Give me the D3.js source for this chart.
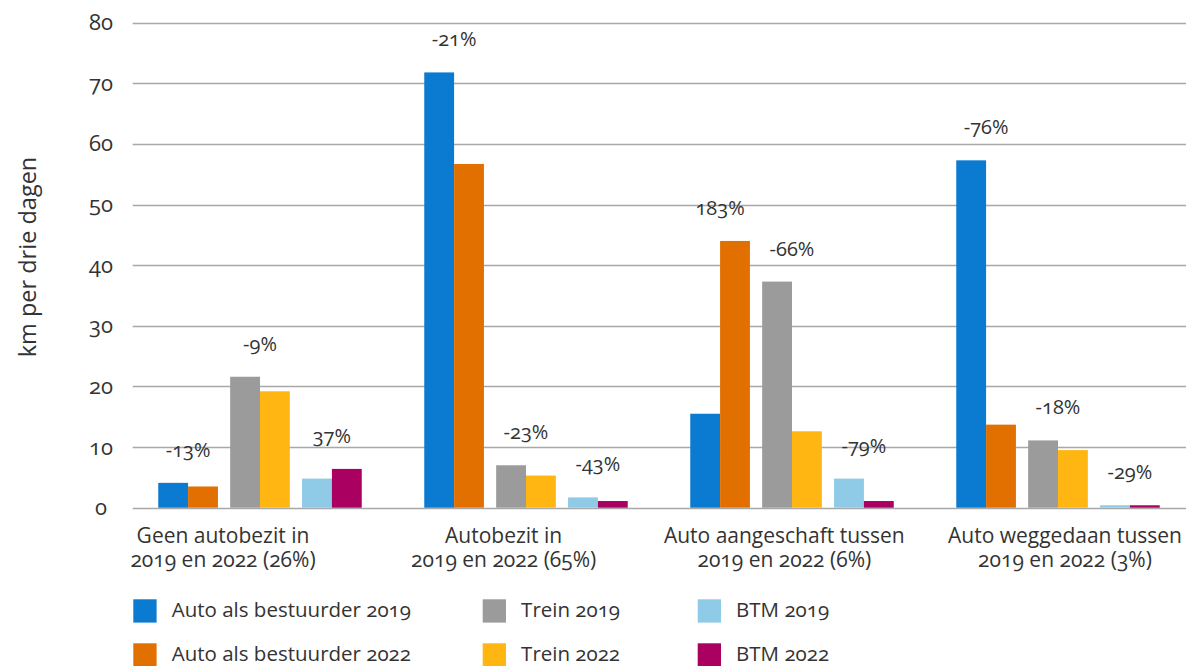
<!DOCTYPE html>
<html>
<head>
<meta charset="utf-8">
<script src="https://cdnjs.cloudflare.com/ajax/libs/d3/7.8.5/d3.min.js"></script>
<style>
  body { margin: 0; background: #fff; }
  svg text { font-family: "Open Sans", "Noto Sans", sans-serif; fill: #333; font-variant-numeric: oldstyle-nums; }
</style>
</head>
<body>
<div id="chart"></div>
<script>
// groups on the x axis (two lines each)
var categories = [
	["Geen autobezit in", "2019 en 2022 (26%)"],
	["Autobezit in", "2019 en 2022 (65%)"],
	["Auto aangeschaft tussen", "2019 en 2022 (6%)"],
	["Auto weggedaan tussen", "2019 en 2022 (3%)"]
];

var seriesNames = ["Auto als bestuurder 2019", "Auto als bestuurder 2022", "Trein 2019", "Trein 2022", "BTM 2019", "BTM 2022"];

// km per drie dagen
var auto2019 = [4.1, 71.8, 15.5, 57.3];
var auto2022 = [3.5, 56.7, 44.0, 13.7];
var trein2019 = [21.6, 7.0, 37.3, 11.1];
var trein2022 = [19.2, 5.3, 12.6, 9.5];
var btm2019 = [4.8, 1.7, 4.8, 0.4];
var btm2022 = [6.4, 1.1, 1.1, 0.4];

// change 2019 -> 2022 per mode (auto, trein, btm)
var changeAuto = ["-13%", "-21%", "183%", "-76%"];
var changeTrein = ["-9%", "-23%", "-66%", "-18%"];
var changeBtm = ["37%", "-43%", "-79%", "-29%"];

var yTicks = [0, 10, 20, 30, 40, 50, 60, 70, 80];

var colors = ["#0b7bd1", "#e17000", "#9b9b9b", "#ffb612", "#8fcae7", "#a90061"];

var w = 1186, h = 666;

var svg = d3.select("#chart").append("svg")
	.attr("width", w)
	.attr("height", h);

var y = d3.scaleLinear().domain([0, 80]).range([507.7, 22.7]);

var x0 = d3.scaleBand()
	.domain(d3.range(categories.length))
	.range([127, 1191])
	.paddingInner(0.235)
	.paddingOuter(0.1175);

var x1 = d3.scaleBand()
	.domain([0, 1, 2])
	.range([0, x0.bandwidth()])
	.paddingInner(0.17);

// label axis sits a bit off the bar groups in the original
var xLabel = d3.scalePoint()
	.domain(d3.range(categories.length))
	.range([223, 1065]);

// gridlines
svg.append("g").selectAll("line")
	.data(yTicks)
	.enter().append("line")
	.attr("x1", 132.7)
	.attr("x2", w)
	.attr("y1", function(d) { return Math.round(y(d)) + 0.5; })
	.attr("y2", function(d) { return Math.round(y(d)) + 0.5; })
	.attr("stroke", "#a8a8a8")
	.attr("stroke-width", 1.4);

// y axis with d3 axis, domain line hidden
var yAxis = svg.append("g")
	.attr("transform", "translate(112,0)")
	.call(d3.axisLeft(y).tickValues(yTicks).tickSize(0).tickPadding(0));
yAxis.select(".domain").remove();
yAxis.selectAll("text")
	.attr("x", -11)
	.attr("text-anchor", "middle")
	.attr("dy", "0.32em")
	.style("font-size", "22px")
	.style("font-family", "'Open Sans', sans-serif")
	.style("fill", "#333");

svg.append("text")
	.attr("transform", "translate(36,257) rotate(-90)")
	.attr("text-anchor", "middle")
	.style("font-size", "23.5px")
	.text("km per drie dagen");

var pairs = [
	[auto2019, auto2022, changeAuto],
	[trein2019, trein2022, changeTrein],
	[btm2019, btm2022, changeBtm]
];

var groups = svg.selectAll("g.group")
	.data(categories)
	.enter().append("g")
	.attr("class", "group")
	.attr("transform", function(d, i) { return "translate(" + x0(i) + ",0)"; });

groups.each(function(cat, gi) {
	var g = d3.select(this);
	pairs.forEach(function(p, pi) {
		var bw = x1.bandwidth() / 2;
		var vals = [p[0][gi], p[1][gi]];
		g.selectAll("rect.p" + pi)
			.data(vals)
			.enter().append("rect")
			.attr("class", "p" + pi)
			.attr("x", function(d, k) { return x1(pi) + k * bw; })
			.attr("y", function(d) { return y(d); })
			.attr("width", bw)
			.attr("height", function(d) { return y(0) - y(d); })
			.attr("fill", function(d, k) { return colors[pi * 2 + k]; });

		g.append("text")
			.attr("x", x1(pi) + x1.bandwidth() / 2)
			.attr("y", y(d3.max(vals)) - 26)
			.attr("text-anchor", "middle")
			.style("font-size", "20px")
			.text(p[2][gi]);
	});
});

// category labels, one text per line
categories.forEach(function(lines, i) {
	lines.forEach(function(line, k) {
		svg.append("text")
			.attr("x", xLabel(i))
			.attr("y", 543.3 + k * 23.3)
			.attr("text-anchor", "middle")
			.style("font-size", "21px")
			.text(line);
	});
});

// legend, 3 columns x 2 rows
var legendX = [133.3, 482.7, 697.7];
var legend = svg.append("g").selectAll("g")
	.data(seriesNames)
	.enter().append("g")
	.attr("transform", function(d, i) {
		return "translate(" + legendX[Math.floor(i / 2)] + "," + (599.3 + (i % 2) * 44) + ")";
	});
legend.append("rect")
	.attr("width", 23.3)
	.attr("height", 23.3)
	.attr("fill", function(d, i) { return colors[i]; });
legend.append("text")
	.attr("x", 38.4)
	.attr("y", 18)
	.style("font-size", "20.5px")
	.text(function(d) { return d; });
</script>
</body>
</html>
